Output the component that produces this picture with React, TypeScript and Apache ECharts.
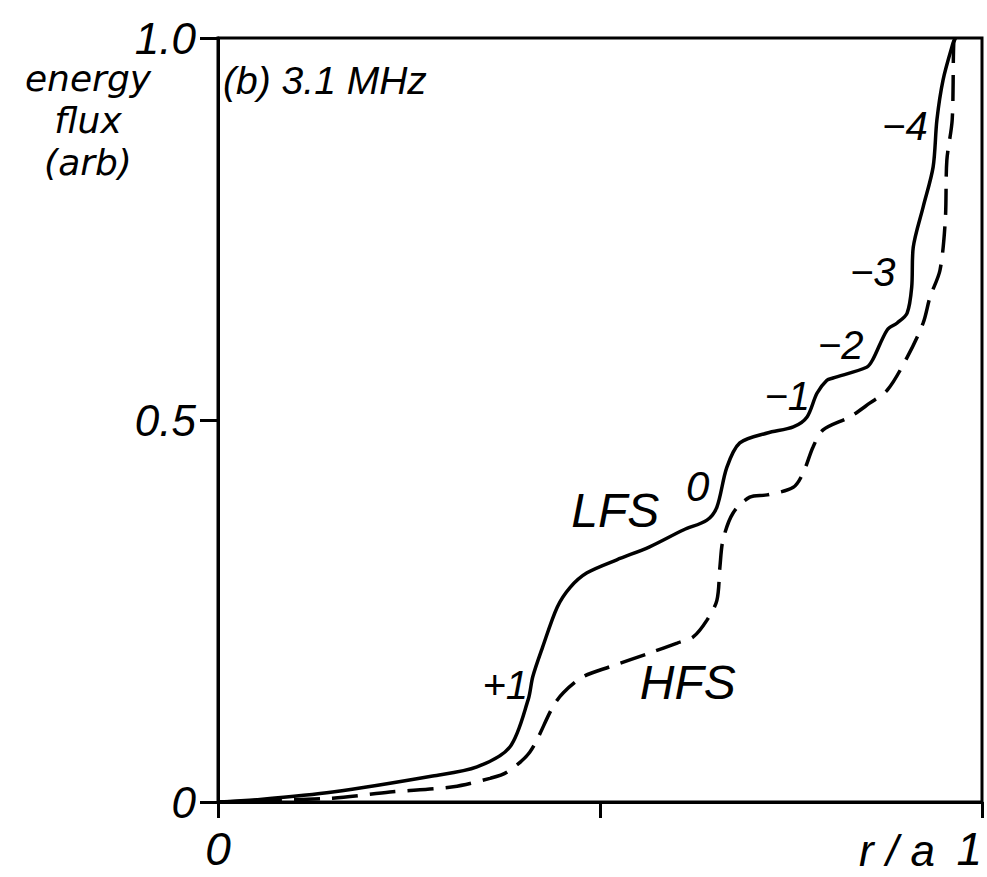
import React, { useEffect, useRef } from "react";
import * as echarts from "echarts";

// r/a and energy flux for the low-field-side (solid) curve
const lfsR = [0, 0.05, 0.15, 0.281, 0.339, 0.382, 0.406, 0.412, 0.425, 0.444, 0.461, 0.483, 0.522, 0.565, 0.609, 0.64, 0.653, 0.666, 0.683, 0.719, 0.753, 0.771, 0.784, 0.797, 0.805, 0.849, 0.857, 0.876, 0.889, 0.902, 0.908, 0.91, 0.923, 0.936, 0.941, 0.949, 0.962, 0.965];
const lfsFlux = [0, 0.003, 0.013, 0.034, 0.046, 0.072, 0.134, 0.164, 0.203, 0.255, 0.281, 0.3, 0.317, 0.334, 0.356, 0.369, 0.386, 0.438, 0.47, 0.483, 0.491, 0.504, 0.535, 0.552, 0.555, 0.569, 0.579, 0.618, 0.627, 0.64, 0.674, 0.726, 0.779, 0.831, 0.893, 0.945, 0.993, 1.0];

// r/a and energy flux for the high-field-side (dashed) curve
const hfsR = [0, 0.15, 0.225, 0.308, 0.356, 0.378, 0.408, 0.438, 0.452, 0.478, 0.513, 0.565, 0.601, 0.622, 0.64, 0.653, 0.657, 0.661, 0.674, 0.696, 0.719, 0.753, 0.766, 0.779, 0.792, 0.827, 0.853, 0.876, 0.902, 0.923, 0.932, 0.945, 0.952, 0.954, 0.961, 0.963, 0.965];
const hfsFlux = [0, 0.005, 0.013, 0.02, 0.031, 0.039, 0.065, 0.124, 0.143, 0.164, 0.177, 0.195, 0.208, 0.216, 0.238, 0.264, 0.308, 0.343, 0.378, 0.399, 0.402, 0.412, 0.431, 0.465, 0.487, 0.504, 0.522, 0.539, 0.582, 0.627, 0.661, 0.696, 0.762, 0.84, 0.893, 0.993, 1.0];

// annotation texts and where they sit, in data coordinates
const noteTexts = ["(b) 3.1 MHz", "+1", "HFS", "LFS", "0", "−1", "−2", "−3", "−4"];
const noteR = [0.14, 0.376, 0.615, 0.52, 0.628, 0.745, 0.815, 0.857, 0.899];
const noteFlux = [0.945, 0.153, 0.156, 0.382, 0.413, 0.531, 0.598, 0.694, 0.885];
const noteSizes = [39, 40, 48, 48, 42, 40, 40, 40, 40];

// y-axis title lines
const yTitleLines = ["energy", "flux", "(arb)"];

const xTickLabels: Record<string, string> = { "0": "0", "0.5": "", "1": "1" };
const yTickLabels: Record<string, string> = { "0": "0", "0.5": "0.5", "1": "1.0" };

const FONT = "Liberation Sans";
const WORD_FONT = "DejaVu Sans";

export default function App() {
  const ref = useRef<HTMLDivElement>(null);
  useEffect(() => {
    document.body.style.margin = "0";
    document.body.style.overflow = "hidden";
    if (!ref.current) return;
    const chart = echarts.init(ref.current, null, { renderer: "svg" });
    const lfs = lfsR.map((r, i) => [r, lfsFlux[i]]);
    const hfs = hfsR.map((r, i) => [r, hfsFlux[i]]);
    const notes = noteTexts.map((t, i) => ({
      name: t,
      value: [noteR[i], noteFlux[i]],
      label: { fontSize: noteSizes[i], color: "#000" },
    }));
    const yTitle = yTitleLines.map((t, i) => ({
      type: "text",
      x: 88,
      y: 78 + i * 42,
      style: {
        text: t,
        fill: "#000",
        font: `italic 36px "${WORD_FONT}"`,
        align: "center",
        verticalAlign: "middle",
      },
    }));
    chart.setOption({
      animation: false,
      backgroundColor: "#fff",
      grid: {
        left: 218,
        right: 5,
        top: 38,
        bottom: 75,
        show: true,
        borderColor: "#000",
        borderWidth: 3,
        containLabel: false,
        outerBoundsMode: "none",
      },
      xAxis: {
        type: "value",
        min: 0,
        max: 1,
        interval: 0.5,
        splitLine: { show: false },
        axisLine: { lineStyle: { color: "#000", width: 3 } },
        axisTick: { length: 16, lineStyle: { color: "#000", width: 3 } },
        axisLabel: {
          margin: 24,
          color: "#000",
          fontFamily: FONT,
          fontStyle: "italic",
          fontSize: 46,
          alignMaxLabel: "right",
          formatter: (v: number) => xTickLabels[String(v)] ?? "",
        },
      },
      yAxis: {
        type: "value",
        min: 0,
        max: 1,
        interval: 0.5,
        splitLine: { show: false },
        axisLine: { lineStyle: { color: "#000", width: 3 } },
        axisTick: { length: 18, lineStyle: { color: "#000", width: 3 } },
        axisLabel: {
          margin: 22,
          color: "#000",
          fontFamily: FONT,
          fontStyle: "italic",
          fontSize: 44,
          formatter: (v: number) => yTickLabels[String(v)] ?? "",
        },
      },
      graphic: [
        ...yTitle,
        {
          type: "text",
          x: 897,
          y: 828,
          style: {
            text: "r / a",
            fill: "#000",
            font: `italic 44px "${FONT}"`,
            align: "center",
            verticalAlign: "top",
          },
        },
      ],
      series: [
        {
          name: "LFS",
          type: "line",
          data: lfs,
          showSymbol: false,
          smooth: 0.3,
          lineStyle: { color: "#000", width: 3.5 },
        },
        {
          name: "HFS",
          type: "line",
          data: hfs,
          showSymbol: false,
          smooth: 0.3,
          lineStyle: { color: "#000", width: 3.5, type: [26, 12] },
        },
        {
          name: "notes",
          type: "scatter",
          data: notes,
          symbolSize: 0,
          silent: true,
          itemStyle: { opacity: 1 },
          label: {
            show: true,
            position: "inside",
            formatter: (p: any) => p.name,
            color: "#000",
            opacity: 1,
            fontFamily: FONT,
            fontStyle: "italic",
          },
        },
      ],
    });
    return () => chart.dispose();
  }, []);
  return <div ref={ref} style={{ width: 987, height: 877 }} />;
}
